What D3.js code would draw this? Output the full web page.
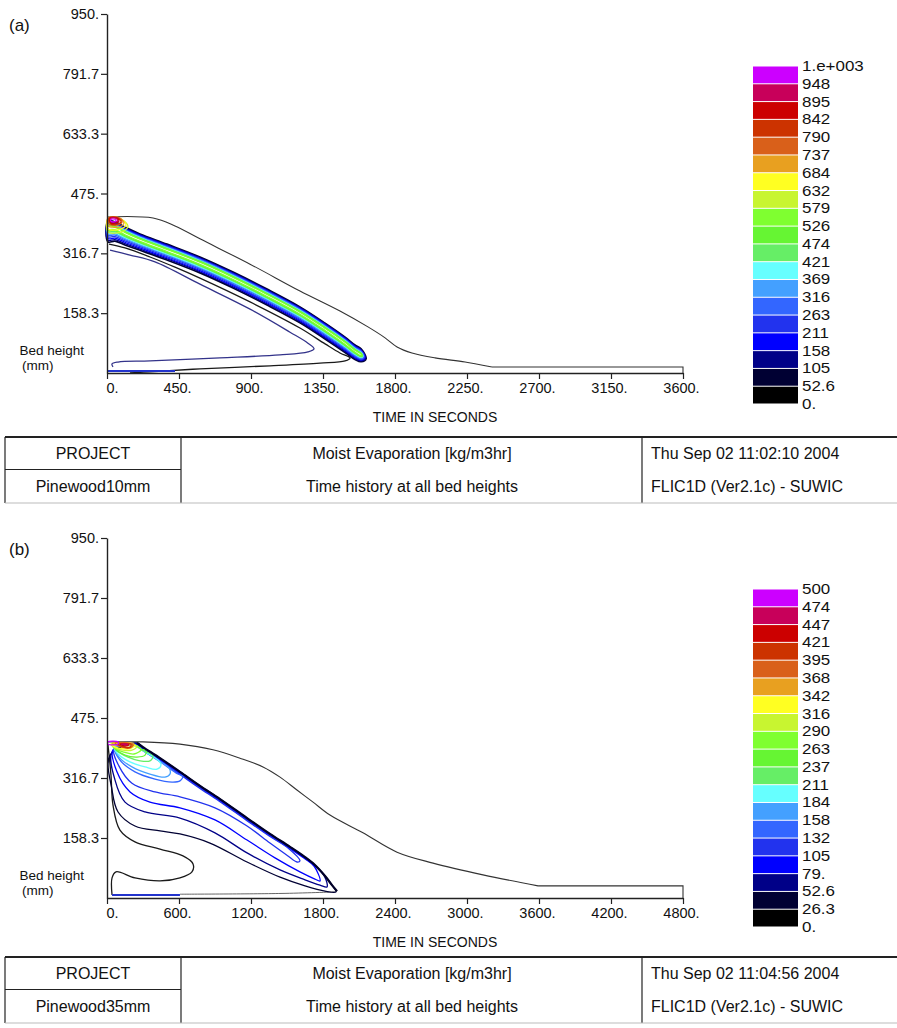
<!DOCTYPE html>
<html>
<head>
<meta charset="utf-8">
<script src="https://cdn.jsdelivr.net/npm/d3@7"></script>
<style>
  body { margin: 0; background: #fff; }
  svg { display: block; }
</style>
</head>
<body>
<div id="chart"></div>
<script>
// ---------- shared axis / legend data ----------
const yTickValues = [158.33, 316.67, 475, 633.33, 791.67, 950];
const yTickLabels = ["158.3", "316.7", "475.", "633.3", "791.7", "950."];

const xTicksA = [0, 450, 900, 1350, 1800, 2250, 2700, 3150, 3600];
const xLabelsA = ["0.", "450.", "900.", "1350.", "1800.", "2250.", "2700.", "3150.", "3600."];
const xTicksB = [0, 600, 1200, 1800, 2400, 3000, 3600, 4200, 4800];
const xLabelsB = ["0.", "600.", "1200.", "1800.", "2400.", "3000.", "3600.", "4200.", "4800."];

// contour levels (bottom of each legend box), bottom-up
const levelsA = [0, 52.6, 105, 158, 211, 263, 316, 369, 421, 474, 526, 579, 632, 684, 737, 790, 842, 895, 948];
const levelsB = [0, 26.3, 52.6, 79, 105, 132, 158, 184, 211, 237, 263, 290, 316, 342, 368, 395, 421, 447, 474];
// legend labels, top-down as printed
const legendLabelsA = ["1.e+003", "948", "895", "842", "790", "737", "684", "632", "579", "526", "474", "421", "369", "316", "263", "211", "158", "105", "52.6", "0."];
const legendLabelsB = ["500", "474", "447", "421", "395", "368", "342", "316", "290", "263", "237", "211", "184", "158", "132", "105", "79.", "52.6", "26.3", "0."];
// box colours, bottom-up
const levelColors = ["#000000", "#000033", "#000088", "#0000ff", "#2233ee", "#3366ff", "#44a0ff", "#66ffff",
  "#66ee66", "#66f533", "#7fff30", "#c8f530", "#ffff22", "#e8a020", "#d9601a", "#cc3300", "#cc0000", "#c8005a", "#cc00ff"];

// ---------- panel (a): Pinewood10mm  [time s, bed height mm] ----------
const envelopeA = [[0,413],[288,410],[425,389],[581,355],[894,288],[1206,217],[1456,164],[1631,122],[1738,93],
  [1813,69],[1906,53],[2050,40],[2238,29],[2406,16],[3600,16],[3600,0]];
const bandCenterA = [[6,386],[50,384],[112,370],[206,352],[375,325],[581,291],[788,251],[1000,206],[1206,159],
  [1363,116],[1488,79],[1550,58],[1588,48]];
const bandFanA = [1.5, 1.35, 1.2, 1.05, 1, 1, 1, 1, 1, 1, 0.95, 0.85, 0.7];
const bandLevelsA = [52.6, 105, 158, 211, 263, 316, 369, 421, 474, 526];
const bandUpA = [16, 14, 12, 10.5, 9, 7.5, 6, 4.8, 3.5, 2.2];
const bandLowA = [26, 23, 20, 17, 14, 11.5, 9.5, 7.5, 5.5, 3.5];
const blobA = [
  { level: 579, pts: [[6,407],[94,405],[131,389],[106,376],[50,370],[6,373]] },
  { level: 632, pts: [[6,407],[87.5,407],[119,392],[87.5,381],[37.5,378],[6,381]] },
  { level: 684, pts: [[6,410],[81,410],[106,397],[75,386],[31,386],[6,389]] },
  { level: 737, pts: [[12.5,410],[75,410],[94,400],[69,392],[25,392],[12.5,394]] },
  { level: 790, pts: [[12.5,410],[69,410],[87.5,400],[62.5,394],[25,394]] },
  { level: 842, pts: [[19,410],[62.5,410],[75,402],[56,397],[25,397]] },
  { level: 895, pts: [[25,410],[56,410],[69,402],[50,400],[25,400]] },
  { level: 948, pts: [[25,407],[50,407],[56,402],[44,400],[25,402]] }
];
const shelfA1 = [[12.5,341],[112.5,331],[269,307],[425,280],[581,251],[894,188],[1206,119],[1363,77],[1456,53],
  [1519,40],[1488,32],[1331,26],[1019,19],[581,11],[269,3],[144,0]];
const shelfA2 = [[19,325],[144,312],[300,294],[581,235],[894,169],[1144,108],[1256,79],[1294,64],[1256,56],
  [1081,48],[706,40],[269,32],[69,29],[31,24],[37.5,16]];
const bottomA = [[6,5],[425,5]];

// ---------- panel (b): Pinewood35mm ----------
const envelopeB = [[0,412],[300,412],[608,406],[883,391],[1108,369],[1300,346],[1442,319],[1583,285],[1717,253],
  [1858,219],[2133,172],[2417,121],[2717,92],[3133,61],[3592,32],[4800,32],[4800,0]];
const frontB = [[250,409],[300,398],[442,369],[608,333],[775,296],[942,261],[1167,211],[1358,169],[1525,135],
  [1650,108],[1733,87],[1817,58],[1875,34],[1917,18]];
const loopsB = [
  { level: 26.3, pts: [[25,377],[42,285],[92,227],[233,190],[442,177],[608,169],[858,145],[1167,95],[1442,55],[1650,32],[1817,18],[1908,16]] },
  { level: 52.6, pts: [[42,385],[67,311],[150,253],[317,227],[608,211],[900,172],[1167,119],[1442,74],[1650,48],[1775,34],[1833,29]] },
  { level: 79, pts: [[50,391],[83,333],[192,280],[358,253],[608,238],[900,206],[1167,153],[1400,106],[1608,69],[1733,50],[1775,45]] },
  { level: 105, pts: [[58,393],[100,348],[208,303],[400,280],[608,267],[900,238],[1167,190],[1358,145],[1508,111],[1583,95],[1608,98]] },
  { level: 132, pts: [[67,396],[108,364],[233,333],[400,314],[542,306],[608,309],[633,322]] },
  { level: 158, pts: [[67,398],[100,372],[208,346],[358,327],[483,319],[525,327],[517,343]] },
  { level: 184, pts: [[58,401],[92,380],[192,359],[317,346],[417,340],[450,351],[425,364]] },
  { level: 211, pts: [[50,404],[83,388],[175,372],[275,362],[358,362],[383,375]] },
  { level: 237, pts: [[42,404],[75,391],[150,377],[250,372],[317,377],[325,391]] },
  { level: 263, pts: [[42,406],[75,393],[142,385],[225,380],[283,391]] },
  { level: 290, pts: [[33,406],[67,397],[133,390],[208,390],[250,400]] },
  { level: 316, pts: [[33,406],[67,399],[125,394],[192,394],[233,403]] },
  { level: 342, pts: [[42,409],[92,402],[158,398],[217,402],[225,407]] },
  { level: 368, pts: [[67,409],[125,398],[192,396],[217,404]] },
  { level: 395, pts: [[92,406],[142,398],[192,398],[200,406]] },
  { level: 421, pts: [[108,406],[150,401],[183,404]] },
  { level: 447, pts: [[117,406],[158,404],[175,406]] },
  { level: 474, pts: [[8,412],[92,412],[92,406],[8,406]] }
];
const fingerB = [[8,404],[33,325],[50,245],[108,179],[233,148],[442,129],[633,111],[717,90],[708,69],[608,53],
  [442,45],[233,53],[75,69],[42,53],[42,8]];
const bottomB = [[42,8],[608,8]];
const bottomB2 = [[608,10],[1450,12],[1900,16]];

// ---------- title blocks ----------
const tableA = ["PROJECT", "Moist Evaporation [kg/m3hr]", "Thu Sep 02 11:02:10 2004",
  "Pinewood10mm", "Time history at all bed heights", "FLIC1D (Ver2.1c) - SUWIC"];
const tableB = ["PROJECT", "Moist Evaporation [kg/m3hr]", "Thu Sep 02 11:04:56 2004",
  "Pinewood35mm", "Time history at all bed heights", "FLIC1D (Ver2.1c) - SUWIC"];

const FONT = "'Liberation Sans', Arial, sans-serif";
const LW = 1.3;

const svg = d3.select("#chart").append("svg")
  .attr("width", 897).attr("height", 1028)
  .style("font-family", FONT);

function makePanel(o) {
  const g = svg.append("g");
  const x = d3.scaleLinear().domain([0, o.xMax]).range([107, 683]);
  const y = d3.scaleLinear().domain([0, 950]).range([o.yBottom, o.yTop]);
  const colorOf = d3.scaleThreshold().domain(o.levels.slice(1)).range(levelColors);
  const open = d3.line().x(d => x(d[0])).y(d => y(d[1])).curve(d3.curveCatmullRom.alpha(0.5));
  const straight = d3.line().x(d => x(d[0])).y(d => y(d[1]));
  const closed = d3.line().x(d => x(d[0])).y(d => y(d[1])).curve(d3.curveCatmullRomClosed.alpha(0.5));
  const plot = g.append("g").attr("fill", "none").attr("stroke-width", LW);
  return { g, plot, x, y, colorOf, open, straight, closed };
}

// smooth curve down to the flat tail, then straight along the tail and down the right edge
function drawEnvelope(p, pts) {
  p.plot.append("path").attr("d", p.open(pts.slice(0, -2))).attr("stroke", "#333").attr("stroke-width", 1.1);
  p.plot.append("path").attr("d", p.straight(pts.slice(-3))).attr("stroke", "#333").attr("stroke-width", 1.1);
}

function drawAxes(p, o) {
  const gy = p.g.append("g")
    .attr("transform", "translate(107,0)")
    .call(d3.axisLeft(p.y).tickValues(yTickValues).tickFormat((d, i) => yTickLabels[i])
      .tickSize(6).tickPadding(2).tickSizeOuter(0));
  const gx = p.g.append("g")
    .attr("transform", `translate(0,${o.yBottom})`)
    .call(d3.axisBottom(p.x).tickValues(o.xTicks).tickFormat((d, i) => o.xLabels[i])
      .tickSize(6).tickPadding(4).tickSizeOuter(0));
  [gy, gx].forEach(a => {
    a.attr("font-size", 14.5).attr("font-family", FONT);
    a.select(".domain").attr("stroke", "#222").attr("stroke-width", 1.4);
    a.selectAll(".tick line").attr("stroke", "#222").attr("stroke-width", 1.2);
    a.selectAll(".tick text").attr("fill", "#111");
  });
  gx.selectAll(".tick text").attr("dx", (d, i) => i === 0 ? 5 : -2);

  p.g.append("text").attr("x", 84).attr("y", o.yBottom - 18).attr("text-anchor", "end")
    .attr("font-size", 13.5).attr("fill", "#111").text("Bed height");
  p.g.append("text").attr("x", 22).attr("y", o.yBottom - 3)
    .attr("font-size", 13.5).attr("fill", "#111").text("(mm)");
  p.g.append("text").attr("x", 435).attr("y", o.yBottom + 49).attr("text-anchor", "middle")
    .attr("font-size", 14).attr("fill", "#111").text("TIME IN SECONDS");
  p.g.append("text").attr("x", 9).attr("y", o.yTop + 17)
    .attr("font-size", 17).attr("fill", "#111").text(o.tag);
}

function drawLegend(p, o) {
  const n = o.legendLabels.length - 1;
  const ly = d3.scaleLinear().domain([0, n]).range([o.legTop, o.legTop + 338]);
  const lg = p.g.append("g");
  lg.selectAll("rect").data(d3.range(n)).join("rect")
    .attr("x", 753).attr("width", 45)
    .attr("y", k => ly(k) + 0.5)
    .attr("height", k => ly(k + 1) - ly(k) - 1)
    .attr("fill", k => levelColors[n - 1 - k]);
  lg.selectAll("text").data(o.legendLabels).join("text")
    .attr("transform", (d, k) => `translate(802,${ly(k) + 5}) scale(1.13,1)`)
    .attr("font-size", 15).attr("fill", "#111").text(d => d);
}

function drawTable(top, cells) {
  const t = svg.append("g");
  const mid = top + 32.5, bot = top + 66;
  const stroke = (x1, y1, x2, y2, w, c) => t.append("line")
    .attr("x1", x1).attr("y1", y1).attr("x2", x2).attr("y2", y2)
    .attr("stroke", c || "#222").attr("stroke-width", w);
  stroke(5, top, 897, top, 2);
  stroke(5, top, 5, bot, 1.2);
  stroke(181, top, 181, bot, 1.2);
  stroke(642, top, 642, bot, 1.2);
  stroke(5, mid, 181, mid, 1.2);
  stroke(5, bot, 897, bot, 1, "#bbb");
  const pos = [[93, "middle"], [412, "middle"], [651, "start"]];
  cells.forEach((c, i) => {
    const col = i % 3, row = Math.floor(i / 3);
    t.append("text").attr("x", pos[col][0]).attr("y", (row ? mid + 22 : top + 22))
      .attr("text-anchor", pos[col][1]).attr("font-size", 16).attr("fill", "#111").text(c);
  });
}

// ---------- panel (a) ----------
const oA = { xMax: 3600, yBottom: 373, yTop: 14, levels: levelsA, xTicks: xTicksA, xLabels: xLabelsA,
  legendLabels: legendLabelsA, legTop: 66, tag: "(a)" };
const pA = makePanel(oA);

drawEnvelope(pA, envelopeA);
pA.plot.append("path").attr("d", pA.open(shelfA1)).attr("stroke", "#1a1a1a");
pA.plot.append("path").attr("d", pA.open(shelfA2)).attr("stroke", "#33338a");
pA.plot.append("path").attr("d", pA.open(bottomA)).attr("stroke", "#2233cc").attr("stroke-width", 2);

// nested contour loops of the narrow evaporation band
bandLevelsA.forEach((lev, i) => {
  const upper = bandCenterA.map(([t, h]) => [t, h + bandUpA[i]]);
  const lower = bandCenterA.map(([t, h], j) => [t, h - bandLowA[i] * bandFanA[j]]);
  const last = bandCenterA[bandCenterA.length - 1];
  const tip = [last[0] + bandLowA[i] * 1.2, last[1] - bandLowA[i] * 0.4];
  pA.plot.append("path").attr("d", pA.closed(upper.concat([tip], lower.reverse())))
    .attr("stroke", pA.colorOf(lev)).attr("stroke-width", i === 0 ? 1.7 : LW);
});
blobA.forEach(c => {
  pA.plot.append("path").attr("d", pA.closed(c.pts)).attr("stroke", pA.colorOf(c.level));
});
drawAxes(pA, oA);
drawLegend(pA, oA);
drawTable(437, tableA);

// ---------- panel (b) ----------
const oB = { xMax: 4800, yBottom: 898, yTop: 538, levels: levelsB, xTicks: xTicksB, xLabels: xLabelsB,
  legendLabels: legendLabelsB, legTop: 589, tag: "(b)" };
const pB = makePanel(oB);

drawEnvelope(pB, envelopeB);
pB.plot.append("path").attr("d", pB.open(fingerB)).attr("stroke", "#1a1a1a");
pB.plot.append("path").attr("d", pB.open(bottomB)).attr("stroke", "#2233cc").attr("stroke-width", 2);
pB.plot.append("path").attr("d", pB.open(bottomB2)).attr("stroke", "#555").attr("stroke-width", 0.9);

// each loop: its own lower-left path, closed back along the shared evaporation front
// (higher levels sit a hair inside the front, so the front reads as a dense dark edge)
loopsB.forEach((c, k) => {
  const tEnd = c.pts[c.pts.length - 1][0];
  const shift = Math.min(k, 4) * 1.6;
  const back = frontB.filter(p => p[0] < tEnd).reverse().map(([t, h]) => [t - shift * 2, h - shift]);
  pB.plot.append("path").attr("d", pB.closed(c.pts.concat(back))).attr("stroke", pB.colorOf(c.level));
});
// the piled-up lowest levels along the front
pB.plot.append("path").attr("d", pB.open(frontB)).attr("stroke", "#000028").attr("stroke-width", 2.2);
drawAxes(pB, oB);
drawLegend(pB, oB);
drawTable(957, tableB);
</script>
</body>
</html>
